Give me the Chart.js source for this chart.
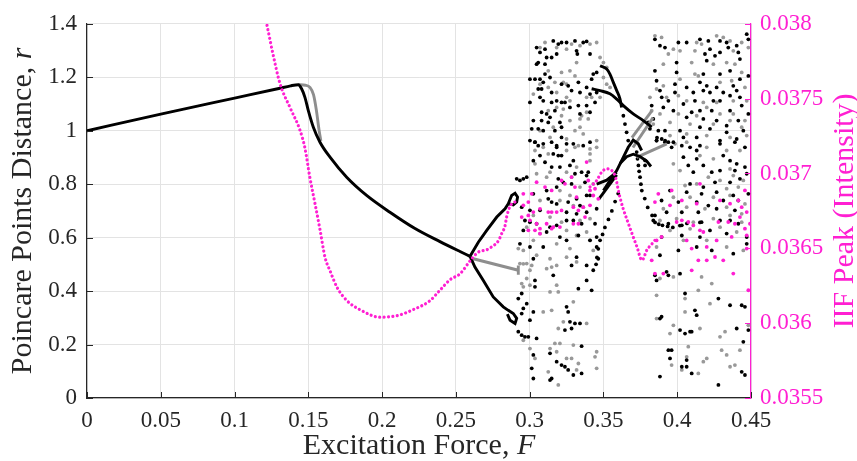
<!DOCTYPE html>
<html>
<head>
<meta charset="utf-8">
<script src="https://cdn.jsdelivr.net/npm/chart.js@4.4.1/dist/chart.umd.min.js"></script>
<style>
  body { margin: 0; background: #fff; }
  canvas { display: block; }
</style>
</head>
<body>
<canvas id="myChart" width="857" height="461"></canvas>
<script>
// axis ranges / ticks
const xRange = [0, 0.45, 0.05];
const rRange = [0, 1.4, 0.2];
const iifRange = [0.0355, 0.038, 0.0005];

// --- Poincare distance r : continuous branches ---
const blackMain = [[0,1.0],[0.05,1.062],[0.1,1.122],[0.13,1.158],[0.138,1.168],[0.1432,1.172],[0.1455,1.156],[0.1477,1.125],[0.15,1.075],[0.1534,1.013],[0.1579,0.957],[0.1647,0.901],[0.176,0.826],[0.1895,0.758],[0.2053,0.695],[0.2223,0.634],[0.2392,0.585],[0.2528,0.548],[0.2596,0.53]];
const blackUpper = [[0.2596,0.53],[0.2652,0.583],[0.2709,0.627],[0.2777,0.677],[0.2833,0.708],[0.2855,0.727],[0.2878,0.758],[0.2901,0.766],[0.2918,0.752],[0.2912,0.733],[0.2889,0.722],[0.2855,0.727]];
const blackLower = [[0.2596,0.53],[0.2629,0.49],[0.2686,0.44],[0.2753,0.378],[0.2821,0.341],[0.2855,0.328],[0.2889,0.316],[0.2912,0.298],[0.2901,0.279],[0.2867,0.291],[0.2849,0.314]];
const curveA = [[0.3477,1.243],[0.3522,1.231],[0.3544,1.212],[0.3567,1.181],[0.359,1.150],[0.3612,1.119],[0.3623,1.087]];
const curveB = [[0.342,1.157],[0.3477,1.150],[0.3544,1.138],[0.359,1.118],[0.3635,1.094],[0.3702,1.063],[0.377,1.038],[0.3827,1.013]];
const arch1 = [[0.35,0.776],[0.3544,0.814],[0.359,0.851],[0.3635,0.901],[0.3668,0.938],[0.3702,0.965],[0.3736,0.951],[0.3759,0.926]];
const arch2 = [[0.3612,0.877],[0.3657,0.903],[0.3702,0.912],[0.3748,0.903],[0.3793,0.886],[0.3822,0.866]];
const lambdaA = [[0.3454,0.80],[0.3522,0.815],[0.359,0.845]];
const lambdaB = [[0.347,0.745],[0.353,0.79],[0.359,0.835]];

const grayPeak = [[0.1432,1.172],[0.148,1.17],[0.1511,1.162],[0.1535,1.135],[0.1555,1.075],[0.1572,1.005],[0.1585,0.962]];
const grayBranch = [[0.2618,0.521],[0.2923,0.478],[0.2923,0.496],[0.2923,0.461]];
const grayX1 = [[0.3693,0.974],[0.3829,1.075]];
const grayX2 = [[0.37,0.937],[0.3836,1.049]];
const grayX3 = [[0.3725,0.90],[0.3929,0.951]];

// --- Poincare distance r : chaotic points ---
const blackPtsA = [[0.3047,1.311],[0.307,1.293],[0.3104,1.305],[0.316,1.336],[0.3194,1.324],[0.3216,1.330],[0.325,1.330],[0.3307,1.336],[0.3363,1.330],[0.3386,1.334],[0.3318,1.299],[0.3323,1.287],[0.3183,1.287],[0.3149,1.274],[0.3115,1.274],[0.3058,1.255],[0.3104,1.249],[0.3047,1.249],[0.3409,1.287],[0.3454,1.218],[0.3431,1.212],[0.342,1.193],[0.3104,1.212],[0.3138,1.199],[0.3002,1.193],[0.3036,1.193],[0.307,1.193],[0.3092,1.181],[0.3058,1.156],[0.3081,1.156],[0.3216,1.174],[0.3261,1.168],[0.3284,1.150],[0.3341,1.143],[0.333,1.181],[0.3386,1.162],[0.3409,1.137],[0.3454,1.143],[0.3149,1.143],[0.3183,1.112],[0.3002,1.106],[0.307,1.125],[0.3092,1.112],[0.3149,1.106],[0.3216,1.106],[0.3239,1.106],[0.3273,1.087],[0.333,1.094],[0.3386,1.094],[0.3443,1.106],[0.3081,1.069],[0.3115,1.063],[0.3171,1.075],[0.3138,1.050],[0.3341,1.063],[0.3409,1.069],[0.3025,1.038],[0.3081,1.038],[0.3126,1.031],[0.3205,1.031],[0.3171,1.0],[0.3014,1.007],[0.3058,1.007],[0.3092,1.0],[0.3216,1.013],[0.3002,0.963],[0.3036,0.957],[0.3092,0.951],[0.3149,0.957],[0.3216,0.975],[0.325,0.951],[0.3183,0.938],[0.3363,0.944],[0.3409,0.957],
  [0.3036,0.957],[0.3058,0.944],[0.307,0.907],[0.316,0.913],[0.3194,0.907],[0.3216,0.907],[0.3183,0.944],[0.3296,0.951],[0.3025,0.888],[0.3104,0.882],[0.3149,0.864],[0.3205,0.864],[0.3273,0.870],[0.3296,0.888],[0.3352,0.845],[0.3397,0.845],[0.3386,0.832],[0.3307,0.839],[0.2912,0.820],[0.2934,0.814],[0.2957,0.820],[0.298,0.826],[0.3194,0.820],[0.3228,0.807],[0.3284,0.801],[0.3183,0.789],[0.3115,0.776],[0.3375,0.807],[0.3025,0.764],[0.3126,0.745],[0.3149,0.733],[0.3183,0.726],[0.3261,0.733],[0.3318,0.745],[0.3386,0.758],[0.3409,0.758],[0.3341,0.720],[0.2946,0.714],[0.3002,0.702],[0.307,0.702],[0.325,0.695],[0.3318,0.689],[0.3386,0.695],[0.3454,0.708],[0.2968,0.664],[0.3002,0.658],[0.3047,0.652],[0.325,0.664],[0.3296,0.664],[0.3138,0.639],[0.3183,0.646],[0.3352,0.652],[0.3443,0.652],[0.2957,0.627],[0.3115,0.621],[0.3205,0.602],[0.325,0.590],[0.333,0.608],[0.3409,0.590],[0.2934,0.577],[0.3002,0.565],[0.3092,0.565],[0.3454,0.565],[0.3318,0.527],[0.3025,0.521],[0.3386,0.496],[0.3465,0.521],[0.3284,0.496],[0.3454,0.602],
  [0.3036,0.440],[0.3036,0.416],[0.316,0.459],[0.333,0.409],[0.3386,0.440],[0.342,0.403],[0.3431,0.478],[0.2946,0.391],[0.2923,0.372],[0.298,0.353],[0.2957,0.335],[0.2946,0.316],[0.3025,0.322],[0.3002,0.291],[0.325,0.341],[0.3261,0.322],[0.3273,0.285],[0.3307,0.279],[0.3341,0.279],[0.3284,0.260],[0.3239,0.254],[0.2923,0.248],[0.2946,0.235],[0.2968,0.229],[0.2991,0.229],[0.3047,0.223],[0.3352,0.194],[0.3025,0.161],[0.3138,0.167],[0.3183,0.136],[0.3216,0.123],[0.3239,0.117],[0.3261,0.105],[0.3296,0.086],[0.3352,0.092],[0.3014,0.111],[0.3025,0.073],[0.3149,0.073],[0.3138,0.067]];
const blackPtsB = [[0.3849,1.342],[0.3883,1.318],[0.3917,1.311],[0.4008,1.330],[0.4064,1.330],[0.4154,1.342],[0.4211,1.336],[0.429,1.336],[0.4335,1.330],[0.4346,1.311],[0.4403,1.318],[0.4471,1.361],[0.4482,1.342],[0.4222,1.305],[0.4188,1.287],[0.4256,1.280],[0.429,1.293],[0.42,1.262],[0.4414,1.293],[0.4425,1.268],[0.3996,1.255],[0.3849,1.224],[0.3996,1.218],[0.4177,1.212],[0.429,1.212],[0.4358,1.224],[0.4425,1.193],[0.4482,1.205],[0.386,1.187],[0.3985,1.174],[0.4154,1.181],[0.42,1.168],[0.4064,1.162],[0.4267,1.162],[0.438,1.168],[0.4403,1.150],[0.3883,1.150],[0.3985,1.143],[0.4109,1.143],[0.4177,1.150],[0.4222,1.143],[0.4312,1.143],[0.4358,1.131],[0.4425,1.125],[0.394,1.112],[0.4042,1.100],[0.412,1.112],[0.4245,1.112],[0.429,1.112],[0.4437,1.094],[0.3906,1.087],[0.3974,1.075],[0.4098,1.069],[0.4154,1.075],[0.4234,1.075],[0.4358,1.075],[0.4482,1.063],[0.3838,1.044],[0.4064,1.050],[0.4177,1.044],[0.4267,1.038],[0.4335,1.019],[0.4414,1.038],[0.3917,1.0],[0.4019,1.0],[0.4154,1.013],[0.4222,1.007],[0.4335,0.994],[0.4448,1.0],[0.4042,0.975],[0.386,0.963],[0.3974,0.957],[0.4132,0.975],[0.429,0.963],[0.4403,0.969],
  [0.3917,0.957],[0.3962,0.938],[0.4031,0.944],[0.4087,0.938],[0.4132,0.926],[0.4154,0.944],[0.429,0.951],[0.4391,0.957],[0.4459,0.938],[0.4312,0.907],[0.4358,0.888],[0.4403,0.876],[0.4042,0.901],[0.4132,0.895],[0.4075,0.870],[0.4177,0.870],[0.4109,0.845],[0.4234,0.845],[0.429,0.851],[0.4391,0.851],[0.4459,0.864],[0.4471,0.839],[0.4087,0.801],[0.4177,0.789],[0.4256,0.807],[0.4358,0.807],[0.4425,0.820],[0.3951,0.776],[0.4064,0.770],[0.4165,0.764],[0.4267,0.770],[0.438,0.758],[0.4482,0.764],[0.3894,0.739],[0.4008,0.733],[0.4132,0.733],[0.4211,0.720],[0.4312,0.739],[0.4414,0.739],[0.3849,0.683],[0.3928,0.695],[0.4031,0.695],[0.4143,0.695],[0.4267,0.708],[0.4391,0.702],[0.3838,0.664],[0.394,0.652],[0.4031,0.646],[0.4165,0.658],[0.429,0.664],[0.4358,0.664],[0.4414,0.652],[0.3894,0.602],[0.4031,0.608],[0.4154,0.602],[0.4222,0.627],[0.4335,0.615],[0.4471,0.602],[0.3883,0.534],[0.4008,0.552],[0.4132,0.565],[0.4234,0.552],[0.438,0.540],[0.4471,0.577],
  [0.386,0.440],[0.3849,0.459],[0.3928,0.472],[0.394,0.459],[0.4019,0.465],[0.4053,0.391],[0.4279,0.372],[0.4358,0.347],[0.4437,0.347],[0.4459,0.341],[0.3883,0.297],[0.3894,0.304],[0.412,0.328],[0.4132,0.310],[0.4019,0.254],[0.4053,0.241],[0.4087,0.248],[0.4098,0.248],[0.4403,0.260],[0.4482,0.254],[0.4448,0.210],[0.394,0.179],[0.3962,0.179],[0.3951,0.148],[0.4064,0.142],[0.4031,0.117],[0.4064,0.117],[0.4098,0.092],[0.4437,0.098],[0.4459,0.086],[0.3883,0.080],[0.4279,0.049]];
// dotted black tracks in the window around F = 0.35-0.39
const blackTracks = [[0.3635,1.056],[0.3646,1.025],[0.3657,0.994],[0.3668,0.963],
  [0.3725,0.92],[0.3731,0.895],[0.3737,0.87],[0.3742,0.848],[0.3748,0.826],[0.3754,0.80],[0.376,0.776],[0.378,0.746],[0.38,0.713],[0.383,0.683],[0.385,0.657],[0.3875,0.650],[0.39,0.646],[0.3935,0.642],[0.397,0.638],[0.4018,0.645],[0.4066,0.653],[0.4154,0.657],
  [0.36,0.765],[0.3579,0.735],[0.3557,0.70],[0.3534,0.668],[0.351,0.638],[0.3494,0.612],[0.3477,0.59],[0.3465,0.558],[0.3456,0.526],[0.345,0.50],
  [0.386,0.963],[0.3895,0.969],[0.3918,0.963],[0.394,0.957],[0.3804,1.031],[0.3872,1.0],[0.3827,1.094],[0.3895,1.125],[0.3815,1.007],[0.3863,0.974],[0.3782,0.889],[0.3782,0.87]];

const grayPtsA = [[0.3104,1.330],[0.307,1.311],[0.3183,1.311],[0.325,1.305],[0.3284,1.324],[0.3341,1.318],[0.3409,1.324],[0.3454,1.330],[0.3477,1.274],[0.35,1.255],[0.3522,1.237],[0.3318,1.255],[0.3273,1.224],[0.3216,1.218],[0.3126,1.224],[0.3171,1.181],[0.3228,1.181],[0.325,1.174],[0.307,1.174],[0.3126,1.162],[0.3307,1.205],[0.35,1.199],[0.3522,1.174],[0.3545,1.162],[0.3386,1.125],[0.342,1.125],[0.3477,1.125],[0.325,1.125],[0.3273,1.112],[0.3183,1.143],[0.3025,1.137],[0.3183,1.087],[0.3228,1.081],[0.3126,1.075],[0.3352,1.056],[0.3386,1.069],[0.3397,1.044],[0.3216,1.056],[0.3273,1.038],[0.3341,1.044],[0.307,1.0],[0.316,1.013],[0.3307,1.0],[0.3341,1.013],[0.3363,0.988],[0.3138,0.975],[0.325,0.969],[0.3307,0.938],[0.3454,0.963],[0.3036,0.926],[0.3409,0.932],
  [0.3092,0.938],[0.3126,0.913],[0.325,0.926],[0.333,0.944],[0.3409,0.913],[0.3454,0.938],[0.3036,0.876],[0.3138,0.845],[0.325,0.845],[0.3318,0.864],[0.3409,0.888],[0.3047,0.839],[0.3115,0.826],[0.3284,0.826],[0.3205,0.776],[0.3273,0.758],[0.3341,0.789],[0.3431,0.801],[0.307,0.739],[0.3205,0.739],[0.3296,0.720],[0.3363,0.714],[0.3025,0.683],[0.3138,0.677],[0.3216,0.658],[0.3341,0.664],[0.3409,0.671],[0.298,0.639],[0.307,0.615],[0.325,0.627],[0.3318,0.608],[0.3386,0.621],[0.2923,0.559],[0.2957,0.552],[0.3025,0.590],[0.3183,0.577],[0.3273,0.559],[0.3409,0.590],[0.3047,0.534],[0.3138,0.521],[0.325,0.527],[0.3431,0.552],[0.2957,0.502],[0.3183,0.496],[0.3318,0.509],
  [0.2934,0.503],[0.298,0.503],[0.3014,0.496],[0.3002,0.478],[0.298,0.447],[0.2946,0.428],[0.2957,0.416],[0.3002,0.422],[0.3115,0.484],[0.3149,0.490],[0.3183,0.422],[0.3138,0.397],[0.3194,0.397],[0.3296,0.360],[0.3092,0.322],[0.3149,0.328],[0.3228,0.285],[0.3194,0.260],[0.3386,0.279],[0.3296,0.198],[0.3171,0.204],[0.3205,0.204],[0.3138,0.185],[0.3183,0.173],[0.325,0.148],[0.3284,0.148],[0.3454,0.173],[0.3443,0.154],[0.3454,0.111],[0.3126,0.098],[0.3194,0.049],[0.2957,0.216],[0.3002,0.185],[0.3036,0.148],[0.333,0.129],[0.3318,0.105]];
const grayPtsB = [[0.3849,1.355],[0.3894,1.349],[0.3974,1.305],[0.4019,1.299],[0.4132,1.330],[0.4165,1.324],[0.4267,1.355],[0.4312,1.349],[0.4358,1.336],[0.438,1.299],[0.4437,1.330],[0.4482,1.311],[0.3906,1.249],[0.394,1.287],[0.4098,1.255],[0.412,1.299],[0.4245,1.249],[0.4335,1.255],[0.4391,1.249],[0.4437,1.218],[0.386,1.156],[0.3906,1.168],[0.4019,1.193],[0.412,1.212],[0.4143,1.205],[0.429,1.181],[0.4369,1.187],[0.4459,1.162],[0.3815,1.125],[0.3928,1.125],[0.4008,1.131],[0.4064,1.112],[0.4177,1.106],[0.4267,1.106],[0.438,1.112],[0.4471,1.112],[0.3827,1.075],[0.3883,1.063],[0.4008,1.063],[0.4132,1.056],[0.42,1.087],[0.429,1.063],[0.438,1.063],[0.4459,1.038],[0.3838,1.025],[0.3951,1.031],[0.4087,1.025],[0.4245,1.025],[0.4358,1.038],[0.4437,1.013],[0.3951,0.982],[0.4064,0.988],[0.42,0.982],[0.4358,0.975],[0.4471,0.982],
  [0.3985,0.951],[0.4064,0.957],[0.42,0.938],[0.4335,0.926],[0.4425,0.926],[0.4154,0.907],[0.4245,0.895],[0.4358,0.857],[0.3974,0.876],[0.4019,0.851],[0.4211,0.826],[0.429,0.814],[0.438,0.832],[0.4448,0.814],[0.4053,0.795],[0.4132,0.801],[0.4335,0.783],[0.4414,0.789],[0.3974,0.751],[0.4087,0.751],[0.4245,0.751],[0.4358,0.758],[0.4459,0.726],[0.3906,0.708],[0.4064,0.714],[0.4188,0.708],[0.4335,0.714],[0.4437,0.689],[0.3883,0.664],[0.3996,0.671],[0.4109,0.658],[0.4245,0.671],[0.4358,0.683],[0.4437,0.658],[0.3951,0.627],[0.4087,0.633],[0.429,0.639],[0.4403,0.621],[0.386,0.565],[0.4042,0.590],[0.42,0.590],[0.4335,0.565],[0.4448,0.552],
  [0.3883,0.447],[0.3974,0.453],[0.4165,0.453],[0.4234,0.428],[0.4143,0.403],[0.386,0.384],[0.4053,0.372],[0.4222,0.353],[0.4053,0.322],[0.386,0.297],[0.3974,0.272],[0.3951,0.241],[0.4154,0.260],[0.4324,0.248],[0.429,0.229],[0.4482,0.272],[0.4075,0.192],[0.4301,0.179],[0.4425,0.179],[0.4335,0.161],[0.4064,0.154],[0.42,0.148],[0.4177,0.136],[0.3962,0.123],[0.4031,0.105],[0.4143,0.092],[0.4391,0.123],[0.4358,0.117]];

// --- IIF peak (right axis) ---
const iifCurve = [[0.122,0.03799],[0.126,0.0378],[0.1308,0.0376],[0.1376,0.03744],[0.1443,0.03729],[0.1477,0.03717],[0.1511,0.03697],[0.1545,0.0368],[0.158,0.03662],[0.1613,0.03644],[0.1647,0.03635],[0.1694,0.03624],[0.1762,0.03615],[0.185,0.03609],[0.1986,0.03604],[0.2101,0.03605],[0.221,0.03609],[0.2324,0.03615],[0.2392,0.03622],[0.246,0.03629],[0.2528,0.03633],[0.2607,0.03643],[0.2652,0.036475],[0.2709,0.03649],[0.2743,0.03651],[0.2788,0.03655],[0.2811,0.0366],[0.2833,0.03665],[0.2844,0.03671],[0.2867,0.03678],[0.2901,0.03681]];
const iifCap = [[0.3409,0.03691],[0.3454,0.036953],[0.3488,0.037009],[0.3522,0.037031],[0.3556,0.03702],[0.3578,0.036987],[0.359,0.036942],[0.3601,0.036887],[0.3612,0.03684],[0.3632,0.03677],[0.366,0.03669],[0.3693,0.0366],[0.3727,0.03651],[0.3761,0.03642],[0.3795,0.03649],[0.3829,0.03653],[0.3863,0.03657]];
const iifPts = [[0.2957,0.036864],[0.3014,0.036864],[0.3047,0.036942],[0.3104,0.036909],[0.3149,0.036887],[0.3216,0.036953],[0.3284,0.036976],[0.3386,0.037076],[0.3397,0.036953],[0.3409,0.036887],[0.3443,0.036898],[0.3307,0.036909],[0.3239,0.036931],[0.2957,0.036787],[0.2991,0.036809],[0.3025,0.036742],[0.307,0.036764],[0.3126,0.036742],[0.3149,0.036742],[0.3183,0.036742],[0.3216,0.036753],[0.3296,0.036775],[0.333,0.036753],[0.3363,0.036775],[0.3409,0.036787],[0.3002,0.036687],[0.3047,0.036664],[0.307,0.036631],[0.3115,0.036664],[0.3149,0.036631],[0.3205,0.036642],[0.3296,0.036664],[0.333,0.036664],[0.3375,0.036709],[0.2991,0.03662],[0.3036,0.03662],[0.307,0.036598],[0.316,0.036642],[0.2946,0.036709],[0.2991,0.03672],[0.3431,0.036853],[0.3465,0.036831],[0.3318,0.036842],
  [0.3872,0.036864],[0.3962,0.036887],[0.4154,0.036931],[0.3849,0.036809],[0.3951,0.036787],[0.4031,0.03682],[0.4132,0.036798],[0.429,0.03682],[0.4358,0.036798],[0.4414,0.03682],[0.4459,0.036887],[0.4437,0.036775],[0.3996,0.036676],[0.4031,0.036687],[0.4075,0.036676],[0.4109,0.036653],[0.4154,0.03662],[0.4177,0.036609],[0.4279,0.036676],[0.4346,0.036676],[0.4391,0.036664],[0.4425,0.036709],[0.4471,0.036742],[0.4459,0.036631],[0.3894,0.036576],[0.386,0.036553],[0.4064,0.036553],[0.4098,0.036498],[0.42,0.036509],[0.4256,0.036442],[0.4267,0.036553],[0.4369,0.036576],[0.4471,0.036587],[0.4471,0.036498],[0.4493,0.036664],
  [0.3827,0.03642],[0.3849,0.036331],[0.3906,0.036331],[0.4098,0.036353],[0.4143,0.03642],[0.42,0.03642],[0.4312,0.03642],[0.438,0.036331],[0.4482,0.03622]];

const MAG = '#ff1fd2';
const GRAY = '#8e8e8e';
const AXIS = '#262626';
const SERIF = '"Liberation Serif", "DejaVu Serif", serif';

const xy = a => a.map(p => ({ x: p[0], y: p[1] }));

function lineSet(data, color, order, smooth) {
    return { data: xy(data), showLine: true, borderColor: color, borderWidth: 2.9,
             pointRadius: 0, tension: 0, cubicInterpolationMode: smooth ? 'monotone' : 'default',
             order: order, yAxisID: 'y' };
}
function dotLine(data, order) {
    return { data: xy(data), showLine: true, borderColor: MAG, borderWidth: 3.2,
             borderDash: [0.01, 4.4], borderCapStyle: 'round', pointRadius: 0,
             cubicInterpolationMode: 'monotone', order: order, yAxisID: 'y2' };
}
function pointSet(data, color, order, axis) {
    return { data: xy(data), showLine: false, backgroundColor: color, borderWidth: 0,
             pointRadius: 1.9, order: order, yAxisID: axis || 'y' };
}

// MATLAB style inward ticks + titles with italic symbol
const axisDeco = {
    id: 'axisDeco',
    afterDraw: chart => {
        const ctx = chart.ctx;
        const a = chart.chartArea;
        const sx = chart.scales.x, sy = chart.scales.y, sy2 = chart.scales.y2;
        ctx.save();
        ctx.lineWidth = 1;
        ctx.strokeStyle = AXIS;
        sx.ticks.forEach(t => {
            const px = Math.round(sx.getPixelForValue(t.value)) + 0.5;
            ctx.beginPath(); ctx.moveTo(px, a.bottom); ctx.lineTo(px, a.bottom - 6); ctx.stroke();
        });
        sy.ticks.forEach(t => {
            const py = Math.round(sy.getPixelForValue(t.value)) + 0.5;
            ctx.beginPath(); ctx.moveTo(a.left, py); ctx.lineTo(a.left + 6, py); ctx.stroke();
        });
        ctx.strokeStyle = MAG;
        sy2.ticks.forEach(t => {
            const py = Math.round(sy2.getPixelForValue(t.value)) + 0.5;
            ctx.beginPath(); ctx.moveTo(a.right, py); ctx.lineTo(a.right - 6, py); ctx.stroke();
        });

        const drawTitle = (txt, sym, cx, cy, rot, color) => {
            ctx.save();
            ctx.translate(cx, cy);
            ctx.rotate(rot);
            ctx.fillStyle = color;
            ctx.textBaseline = 'middle';
            ctx.textAlign = 'left';
            const f1 = '30px ' + SERIF, f2 = 'italic 30px ' + SERIF;
            ctx.font = f1;
            const w1 = ctx.measureText(txt).width;
            ctx.font = f2;
            const w2 = sym ? ctx.measureText(sym).width : 0;
            const x0 = -(w1 + w2) / 2;
            ctx.font = f1;
            ctx.fillText(txt, x0, 0);
            if (sym) { ctx.font = f2; ctx.fillText(sym, x0 + w1, 0); }
            ctx.restore();
        };
        const midY = (a.top + a.bottom) / 2;
        drawTitle('Excitation Force, ', 'F', (a.left + a.right) / 2, 446, 0, AXIS);
        drawTitle('Poincare Points Distance, ', 'r', 23, midY, -Math.PI / 2, AXIS);
        drawTitle('IIF Peak (Intensity)', '', 845, midY, -Math.PI / 2, MAG);
        ctx.restore();
    }
};

const ctx = document.getElementById('myChart').getContext('2d');
const myChart = new Chart(ctx, {
    type: 'scatter',
    data: {
        datasets: [
            dotLine(iifCurve, 0),
            dotLine(iifCap, 0),
            pointSet(iifPts, MAG, 0, 'y2'),
            lineSet(blackMain, '#000', 1, true),
            lineSet(blackUpper, '#000', 1),
            lineSet(blackLower, '#000', 1),
            lineSet(curveA, '#000', 1, true),
            lineSet(curveB, '#000', 1, true),
            lineSet(arch1, '#000', 1),
            lineSet(arch2, '#000', 1),
            lineSet(lambdaA, '#000', 1),
            lineSet(lambdaB, '#000', 1),
            lineSet(grayPeak, GRAY, 2, true),
            lineSet(grayBranch, GRAY, 2),
            lineSet(grayX1, GRAY, 2),
            lineSet(grayX2, GRAY, 2),
            lineSet(grayX3, GRAY, 2),
            pointSet(blackPtsA, '#000', 3),
            pointSet(blackPtsB, '#000', 3),
            pointSet(blackTracks, '#000', 3),
            pointSet(grayPtsA, '#999', 4),
            pointSet(grayPtsB, '#999', 4)
        ]
    },
    options: {
        responsive: false,
        animation: false,
        layout: { padding: { top: 23, right: 0, left: 0, bottom: 0 } },
        plugins: { legend: { display: false }, tooltip: { enabled: false } },
        scales: {
            x: {
                type: 'linear', min: xRange[0], max: xRange[1],
                afterFit: s => { s.height = 63; },
                ticks: { stepSize: xRange[2], padding: 9, color: AXIS,
                         font: { family: SERIF, size: 23 },
                         callback: v => String(+v.toFixed(2)) },
                grid: { color: '#e3e3e3', drawTicks: false },
                border: { color: AXIS, width: 1.2 }
            },
            y: {
                position: 'left', min: rRange[0], max: rRange[1],
                afterFit: s => { s.width = 87; },
                ticks: { stepSize: rRange[2], padding: 10, color: AXIS,
                         font: { family: SERIF, size: 23 },
                         callback: v => String(+v.toFixed(1)) },
                grid: { color: '#e3e3e3', drawTicks: false },
                border: { color: AXIS, width: 1.2 }
            },
            y2: {
                position: 'right', min: iifRange[0], max: iifRange[1],
                afterFit: s => { s.width = 106; },
                ticks: { stepSize: iifRange[2], padding: 9, color: MAG,
                         font: { family: SERIF, size: 23 },
                         callback: v => String(+v.toFixed(4)) },
                grid: { drawOnChartArea: false, drawTicks: false },
                border: { color: MAG, width: 1.2 }
            }
        }
    },
    plugins: [axisDeco]
});
</script>
</body>
</html>
